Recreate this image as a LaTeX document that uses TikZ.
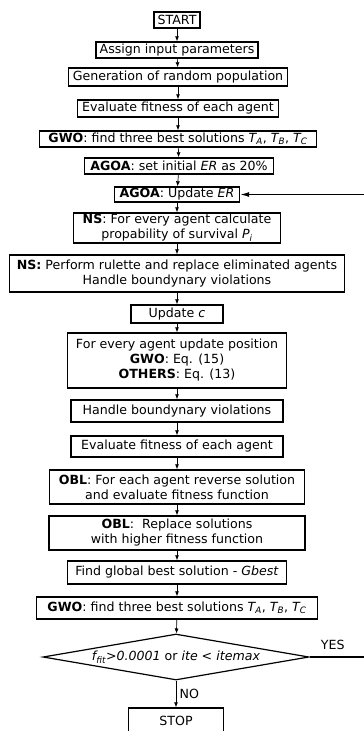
\documentclass[tikz,border=0pt]{standalone}
\usepackage{fontspec}
\setmainfont{DejaVu Sans}
\usepackage{tikz}
\usetikzlibrary{arrows.meta,positioning,shapes.geometric}

\begin{document}
\begin{tikzpicture}[
  x=1pt, y=-1pt,
  every node/.style={font=\fontsize{12.6}{15}\selectfont, align=center},
  stepbox/.style={draw, line width=1.4pt, inner xsep=3pt, inner ysep=0pt},
  decision/.style={draw, line width=1.2pt, diamond, aspect=5.6, inner sep=0pt, minimum width=266pt, minimum height=46pt},
  edge/.style={-{Latex[length=5pt,width=4pt]}, line width=0.7pt},
  loopback/.style={-{Latex[length=9pt,width=5pt]}, line width=1.2pt}
]
\useasboundingbox (0,0) rectangle (364,731);
\clip (0,0) rectangle (364,731);

\node[stepbox, minimum width=46pt, minimum height=16pt] (start) at (177,20) {START};
\node[stepbox, minimum width=162pt, minimum height=16pt] (assign) at (177,50) {Assign input parameters};
\node[stepbox, minimum width=219pt, minimum height=18pt] (gen) at (178,77) {Generation of random population};
\node[stepbox, minimum width=201pt, minimum height=17pt] (evalA) at (178,108.5) {Evaluate fitness of each agent};
\node[stepbox, minimum width=277pt, minimum height=16pt] (gwoA) at (178,139) {\textbf{GWO}: find three best solutions \textit{T\textsubscript{A}}, \textit{T\textsubscript{B}}, \textit{T\textsubscript{C}}};
\node[stepbox, minimum width=189pt, minimum height=16pt] (agoaInit) at (179,166) {\textbf{AGOA}: set initial \textit{ER} as 20\%};
\node[stepbox, minimum width=125pt, minimum height=15pt] (agoaUpd) at (177,194.5) {\textbf{AGOA}: Update \textit{ER}};
\node[stepbox, minimum width=207pt, minimum height=30pt] (nsProb) at (177,228) {\textbf{NS}: For every agent calculate\\propability of survival \textit{P\textsubscript{i}}};
\node[stepbox, minimum width=335pt, minimum height=37pt] (nsRul) at (177,273.5) {\textbf{NS:} Perform rulette and replace eliminated agents\\Handle boundynary violations};
\node[stepbox, minimum width=92pt, minimum height=18pt] (updC) at (177,314) {Update \textit{c}};
\node[stepbox, minimum width=219pt, minimum height=55pt] (updPos) at (177,360.5) {For every agent update position\\\textbf{GWO}: Eq. (15)\\\textbf{OTHERS}: Eq. (13)};
\node[stepbox, minimum width=212pt, minimum height=22pt] (handle) at (177,411) {Handle boundynary violations};
\node[stepbox, minimum width=212pt, minimum height=21pt] (evalB) at (177,446.5) {Evaluate fitness of each agent};
\node[stepbox, minimum width=255pt, minimum height=34pt] (oblRev) at (177,487) {\textbf{OBL}: For each agent reverse solution\\and evaluate fitness function};
\node[stepbox, minimum width=256pt, minimum height=34pt] (oblRep) at (177,533) {\textbf{OBL}:\ \ Replace solutions\\with higher fitness function};
\node[stepbox, minimum width=219pt, minimum height=23pt] (gbest) at (177,572.5) {Find global best solution - \textit{Gbest}};
\node[stepbox, minimum width=281pt, minimum height=22pt] (gwoB) at (177,608) {\textbf{GWO}: find three best solutions \textit{T\textsubscript{A}}, \textit{T\textsubscript{B}}, \textit{T\textsubscript{C}}};
\node[decision] (check) at (176,657) {\textit{f\textsubscript{fit}>0.0001} or \textit{ite < itemax}};
\node[stepbox, minimum width=95pt, minimum height=26pt] (stop) at (176,721) {STOP};

\draw[edge] (start) -- (assign);
\draw[edge] (assign) -- (gen);
\draw[edge] (gen) -- (evalA);
\draw[edge] (evalA) -- (gwoA);
\draw[edge] (gwoA) -- (agoaInit);
\draw[edge] (agoaInit) -- (agoaUpd);
\draw[edge] (agoaUpd) -- (nsProb);
\draw[edge] (nsProb) -- (nsRul);
\draw[edge] (nsRul) -- (updC);
\draw[edge] (updC) -- (updPos);
\draw[edge] (updPos) -- (handle);
\draw[edge] (handle) -- (evalB);
\draw[edge] (evalB) -- (oblRev);
\draw[edge] (oblRev) -- (oblRep);
\draw[edge] (oblRep) -- (gbest);
\draw[edge] (gbest) -- (gwoB);
\draw[edge] (gwoB) -- (check);
\draw[edge] (check) -- node[right]{NO} (stop);
\draw[loopback] (check.east) -- node[above, pos=0.33, yshift=3pt]{YES} ++(70,0) |- (agoaUpd.east);
\end{tikzpicture}
\end{document}
